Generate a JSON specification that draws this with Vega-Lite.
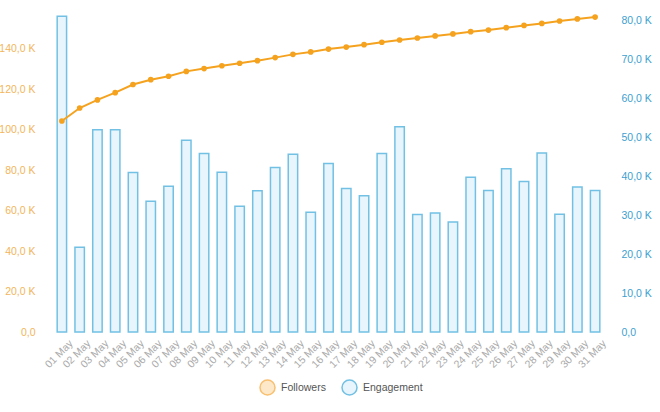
{
  "$schema": "https://vega.github.io/schema/vega-lite/v6.json",
  "width": 551,
  "height": 324,
  "autosize": {"type": "none"},
  "padding": {"left": 53, "top": 8, "right": 56, "bottom": 80},
  "background": "white",
  "config": {
    "view": {"stroke": null},
    "font": "Liberation Sans",
    "axis": {"labelFont": "Liberation Sans", "labelFontSize": 11, "grid": false, "domain": false, "ticks": false, "title": null},
    "legend": {"labelFont": "Liberation Sans", "labelFontSize": 10.5, "labelColor": "#555555"}
  },
  "data": {
    "values": [
      {"day": "01 May", "followers": 104200, "engagement": 81200},
      {"day": "02 May", "followers": 110600, "engagement": 21800},
      {"day": "03 May", "followers": 114600, "engagement": 52000},
      {"day": "04 May", "followers": 118200, "engagement": 52000},
      {"day": "05 May", "followers": 122200, "engagement": 41000},
      {"day": "06 May", "followers": 124600, "engagement": 33600},
      {"day": "07 May", "followers": 126300, "engagement": 37500},
      {"day": "08 May", "followers": 128700, "engagement": 49300},
      {"day": "09 May", "followers": 130100, "engagement": 45900},
      {"day": "10 May", "followers": 131500, "engagement": 41100},
      {"day": "11 May", "followers": 132700, "engagement": 32300},
      {"day": "12 May", "followers": 134000, "engagement": 36300},
      {"day": "13 May", "followers": 135500, "engagement": 42300},
      {"day": "14 May", "followers": 137100, "engagement": 45700},
      {"day": "15 May", "followers": 138300, "engagement": 30800},
      {"day": "16 May", "followers": 139700, "engagement": 43300},
      {"day": "17 May", "followers": 140700, "engagement": 36900},
      {"day": "18 May", "followers": 141900, "engagement": 35000},
      {"day": "19 May", "followers": 143100, "engagement": 45900},
      {"day": "20 May", "followers": 144200, "engagement": 52800},
      {"day": "21 May", "followers": 145200, "engagement": 30200},
      {"day": "22 May", "followers": 146200, "engagement": 30600},
      {"day": "23 May", "followers": 147200, "engagement": 28300},
      {"day": "24 May", "followers": 148300, "engagement": 39800},
      {"day": "25 May", "followers": 149100, "engagement": 36400},
      {"day": "26 May", "followers": 150300, "engagement": 42000},
      {"day": "27 May", "followers": 151400, "engagement": 38700},
      {"day": "28 May", "followers": 152400, "engagement": 46000},
      {"day": "29 May", "followers": 153600, "engagement": 30300},
      {"day": "30 May", "followers": 154600, "engagement": 37300},
      {"day": "31 May", "followers": 155500, "engagement": 36400}
    ]
  },
  "encoding": {
    "x": {
      "field": "day",
      "type": "ordinal",
      "sort": null,
      "scale": {"paddingInner": 0.47, "paddingOuter": 0.235},
      "axis": {"labelAngle": -45, "labelColor": "#aaaaaa", "labelPadding": 6, "labelOffset": 6, "labelFontSize": 10.5}
    }
  },
  "layer": [
    {
      "mark": {"type": "bar", "strokeWidth": 1.5},
      "encoding": {
        "y": {
          "field": "engagement",
          "type": "quantitative",
          "scale": {"domain": [0, 83300], "nice": false},
          "axis": {
            "orient": "right",
            "values": [0, 10000, 20000, 30000, 40000, 50000, 60000, 70000, 80000],
            "labelExpr": "datum.value == 0 ? '0,0' : replace(format(datum.value / 1000, '.1f'), '.', ',') + ' K'",
            "labelColor": "#3d9fd0",
            "labelPadding": 17,
            "labelFontSize": 10.5
          }
        },
        "fill": {
          "datum": "Engagement",
          "type": "nominal",
          "scale": {"domain": ["Followers", "Engagement"], "range": ["#fde9c9", "#e8f5fc"]},
          "legend": {"title": null, "orient": "none", "legendX": 206, "legendY": 371, "direction": "horizontal", "symbolType": "circle", "symbolSize": 225, "symbolStrokeWidth": 1.5, "labelOffset": 5, "columnPadding": 13}
        },
        "stroke": {
          "datum": "Engagement",
          "type": "nominal",
          "scale": {"domain": ["Followers", "Engagement"], "range": ["#f8c070", "#72c1e4"]},
          "legend": {"title": null, "orient": "none", "legendX": 206, "legendY": 371, "direction": "horizontal", "symbolType": "circle", "symbolSize": 225, "symbolStrokeWidth": 1.5, "labelOffset": 5, "columnPadding": 13}
        }
      }
    },
    {
      "mark": {"type": "line", "color": "#f5a21f", "strokeWidth": 2, "point": {"filled": true, "size": 32, "color": "#f5a21f"}},
      "encoding": {
        "y": {
          "field": "followers",
          "type": "quantitative",
          "scale": {"domain": [0, 160000], "nice": false},
          "axis": {
            "orient": "left",
            "values": [0, 20000, 40000, 60000, 80000, 100000, 120000, 140000],
            "labelExpr": "datum.value == 0 ? '0,0' : replace(format(datum.value / 1000, '.1f'), '.', ',') + ' K'",
            "labelColor": "#f2b55b",
            "labelPadding": 18,
            "labelFontSize": 10.5
          }
        }
      }
    }
  ],
  "resolve": {"scale": {"y": "independent"}, "axis": {"y": "independent"}}
}
